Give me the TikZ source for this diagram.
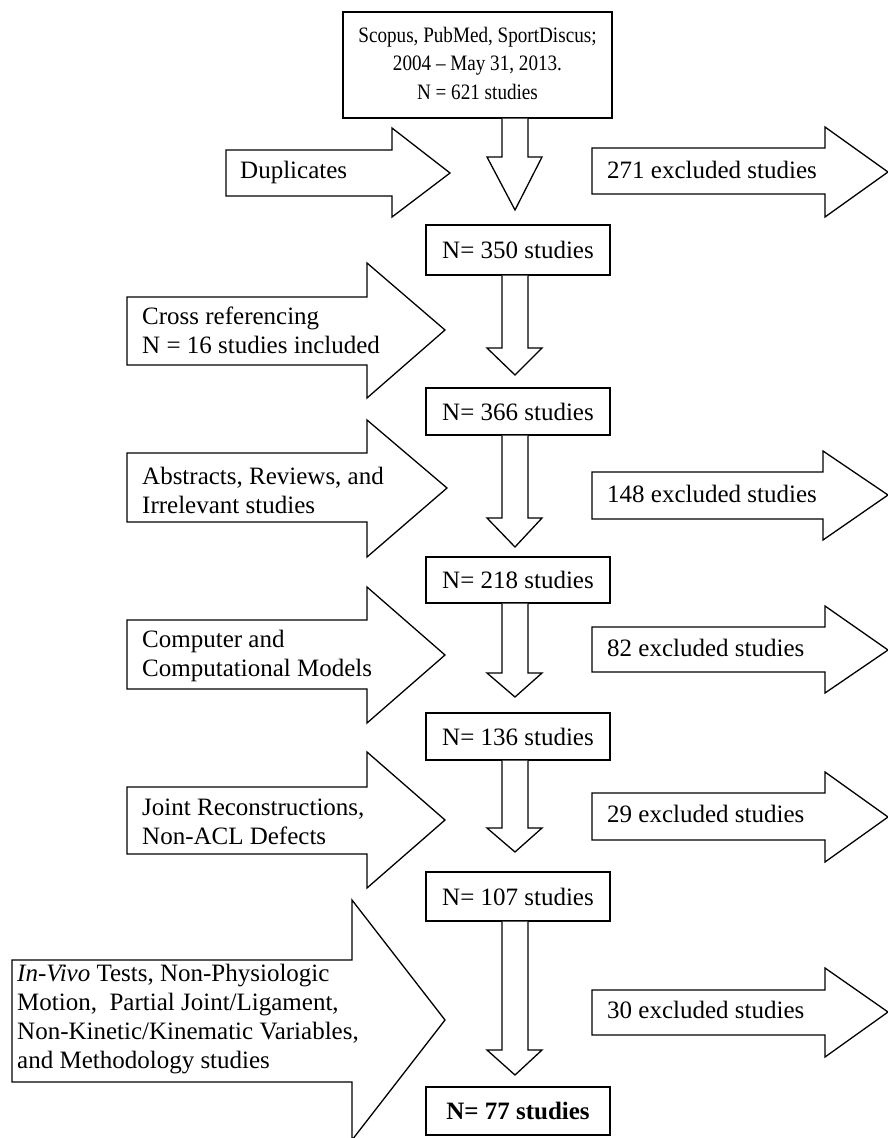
\documentclass[tikz,border=0pt]{standalone}
\usepackage{graphicx}
\usepackage{fontspec}
\setmainfont{Liberation Serif}
\usetikzlibrary{calc}
\newcommand\dfs{\fontsize{25}{29}\selectfont}
\newcommand\tfs{\fontsize{22}{28.5}\selectfont}
% down block arrow: #1 source node, #2 y where head starts, #3 y of tip
\newcommand\dnarr[3]{%
  \draw[blk] (xl |- #1.south) -- (502,#2) -- (487,#2) -- (515,#3) -- (542,#2) -- (528,#2) -- (xr |- #1.south);}
% side block arrow: x0 left, xb head base, xt tip, body top/bottom, head top/bottom, tip y
\newcommand\rarr[8]{%
  \draw[blk] (#1,#4) -- (#2,#4) -- (#2,#6) -- (#3,#8) -- (#2,#7) -- (#2,#5) -- (#1,#5) -- cycle;}
\begin{document}
\begin{tikzpicture}[x=1pt,y=-1pt,
  box/.style={draw, line width=1.3pt, fill=white, inner sep=0pt, align=center, font=\dfs, minimum width=184pt},
  blk/.style={draw, line width=1.3pt, fill=white, line join=miter},
  lbl/.style={anchor=west, align=left, inner sep=0pt, font=\dfs}]
\useasboundingbox (0,0) rectangle (888,1138);
\fill[white] (0,0) rectangle (888,1138);
\coordinate (xl) at (502,0);
\coordinate (xr) at (528,0);

% boxes
\node[box, minimum width=269pt, minimum height=106pt, font=\tfs] (top) at (477.5,65)
  {\scalebox{0.87}[1]{\begin{tabular}{@{}c@{}}Scopus, PubMed, SportDiscus;\\2004 -- May 31, 2013.\\N = 621 studies\end{tabular}}};
\node[box, minimum height=50pt] (b350) at (518,250) {N= 350 studies};
\node[box, minimum height=47pt] (b366) at (518,411.5) {N= 366 studies};
\node[box, minimum height=46pt] (b218) at (518,580) {N= 218 studies};
\node[box, minimum height=47pt] (b136) at (518,736.5) {N= 136 studies};
\node[box, minimum height=49pt] (b107) at (518,896.5) {N= 107 studies};
\node[box, minimum height=48pt] (b77) at (518,1111) {\textbf{N= 77 studies}};

% down arrows between boxes
\dnarr{top}{157}{210}
\dnarr{b350}{348}{375}
\dnarr{b366}{518}{547}
\dnarr{b218}{673}{697}
\dnarr{b136}{828}{852}
\dnarr{b107}{1050}{1075}

% left block arrows
\rarr{226}{392}{450}{150}{196}{128}{217}{173}
\node[lbl] (dup) at (240,172) {Duplicates};

\rarr{127}{367}{445}{297}{365}{263}{398}{330}
\node[lbl] (cross) at (142,330) {Cross referencing\\N = 16 studies included};

\rarr{127}{367}{447}{453}{522}{420}{557}{488}
\node[lbl] (abs) at (142,490) {Abstracts, Reviews, and\\Irrelevant studies};

\rarr{127}{367}{445}{620}{689}{587}{723}{655}
\node[lbl] (comp) at (142,656) {Computer and\\Computational Models};

\rarr{127}{367}{445}{787}{854}{752}{888}{820}
\node[lbl] (joint) at (142,822) {Joint Reconstructions,\\Non-ACL Defects};

\rarr{12}{352}{445}{960}{1082}{900}{1140}{1020}
\node[lbl] (vivo) at (17,1019) {\textit{In-Vivo} Tests, Non-Physiologic\\Motion,~ Partial Joint/Ligament,\\Non-Kinetic/Kinematic Variables,\\and Methodology studies};

% right block arrows (excluded)
\rarr{592}{825}{888}{148}{194}{127}{217}{172}
\node[lbl] (e271) at (607,170) {271 excluded studies};

\rarr{592}{823}{888}{472}{519}{451}{540}{495}
\node[lbl] (e148) at (607,494) {148 excluded studies};

\rarr{592}{825}{888}{627}{672}{606}{693}{650}
\node[lbl] (e82) at (607,648) {82 excluded studies};

\rarr{592}{825}{888}{793}{840}{772}{862}{817}
\node[lbl] (e29) at (607,814) {29 excluded studies};

\rarr{592}{825}{888}{990}{1035}{968}{1057}{1012}
\node[lbl] (e30) at (607,1010) {30 excluded studies};
\end{tikzpicture}
\end{document}
